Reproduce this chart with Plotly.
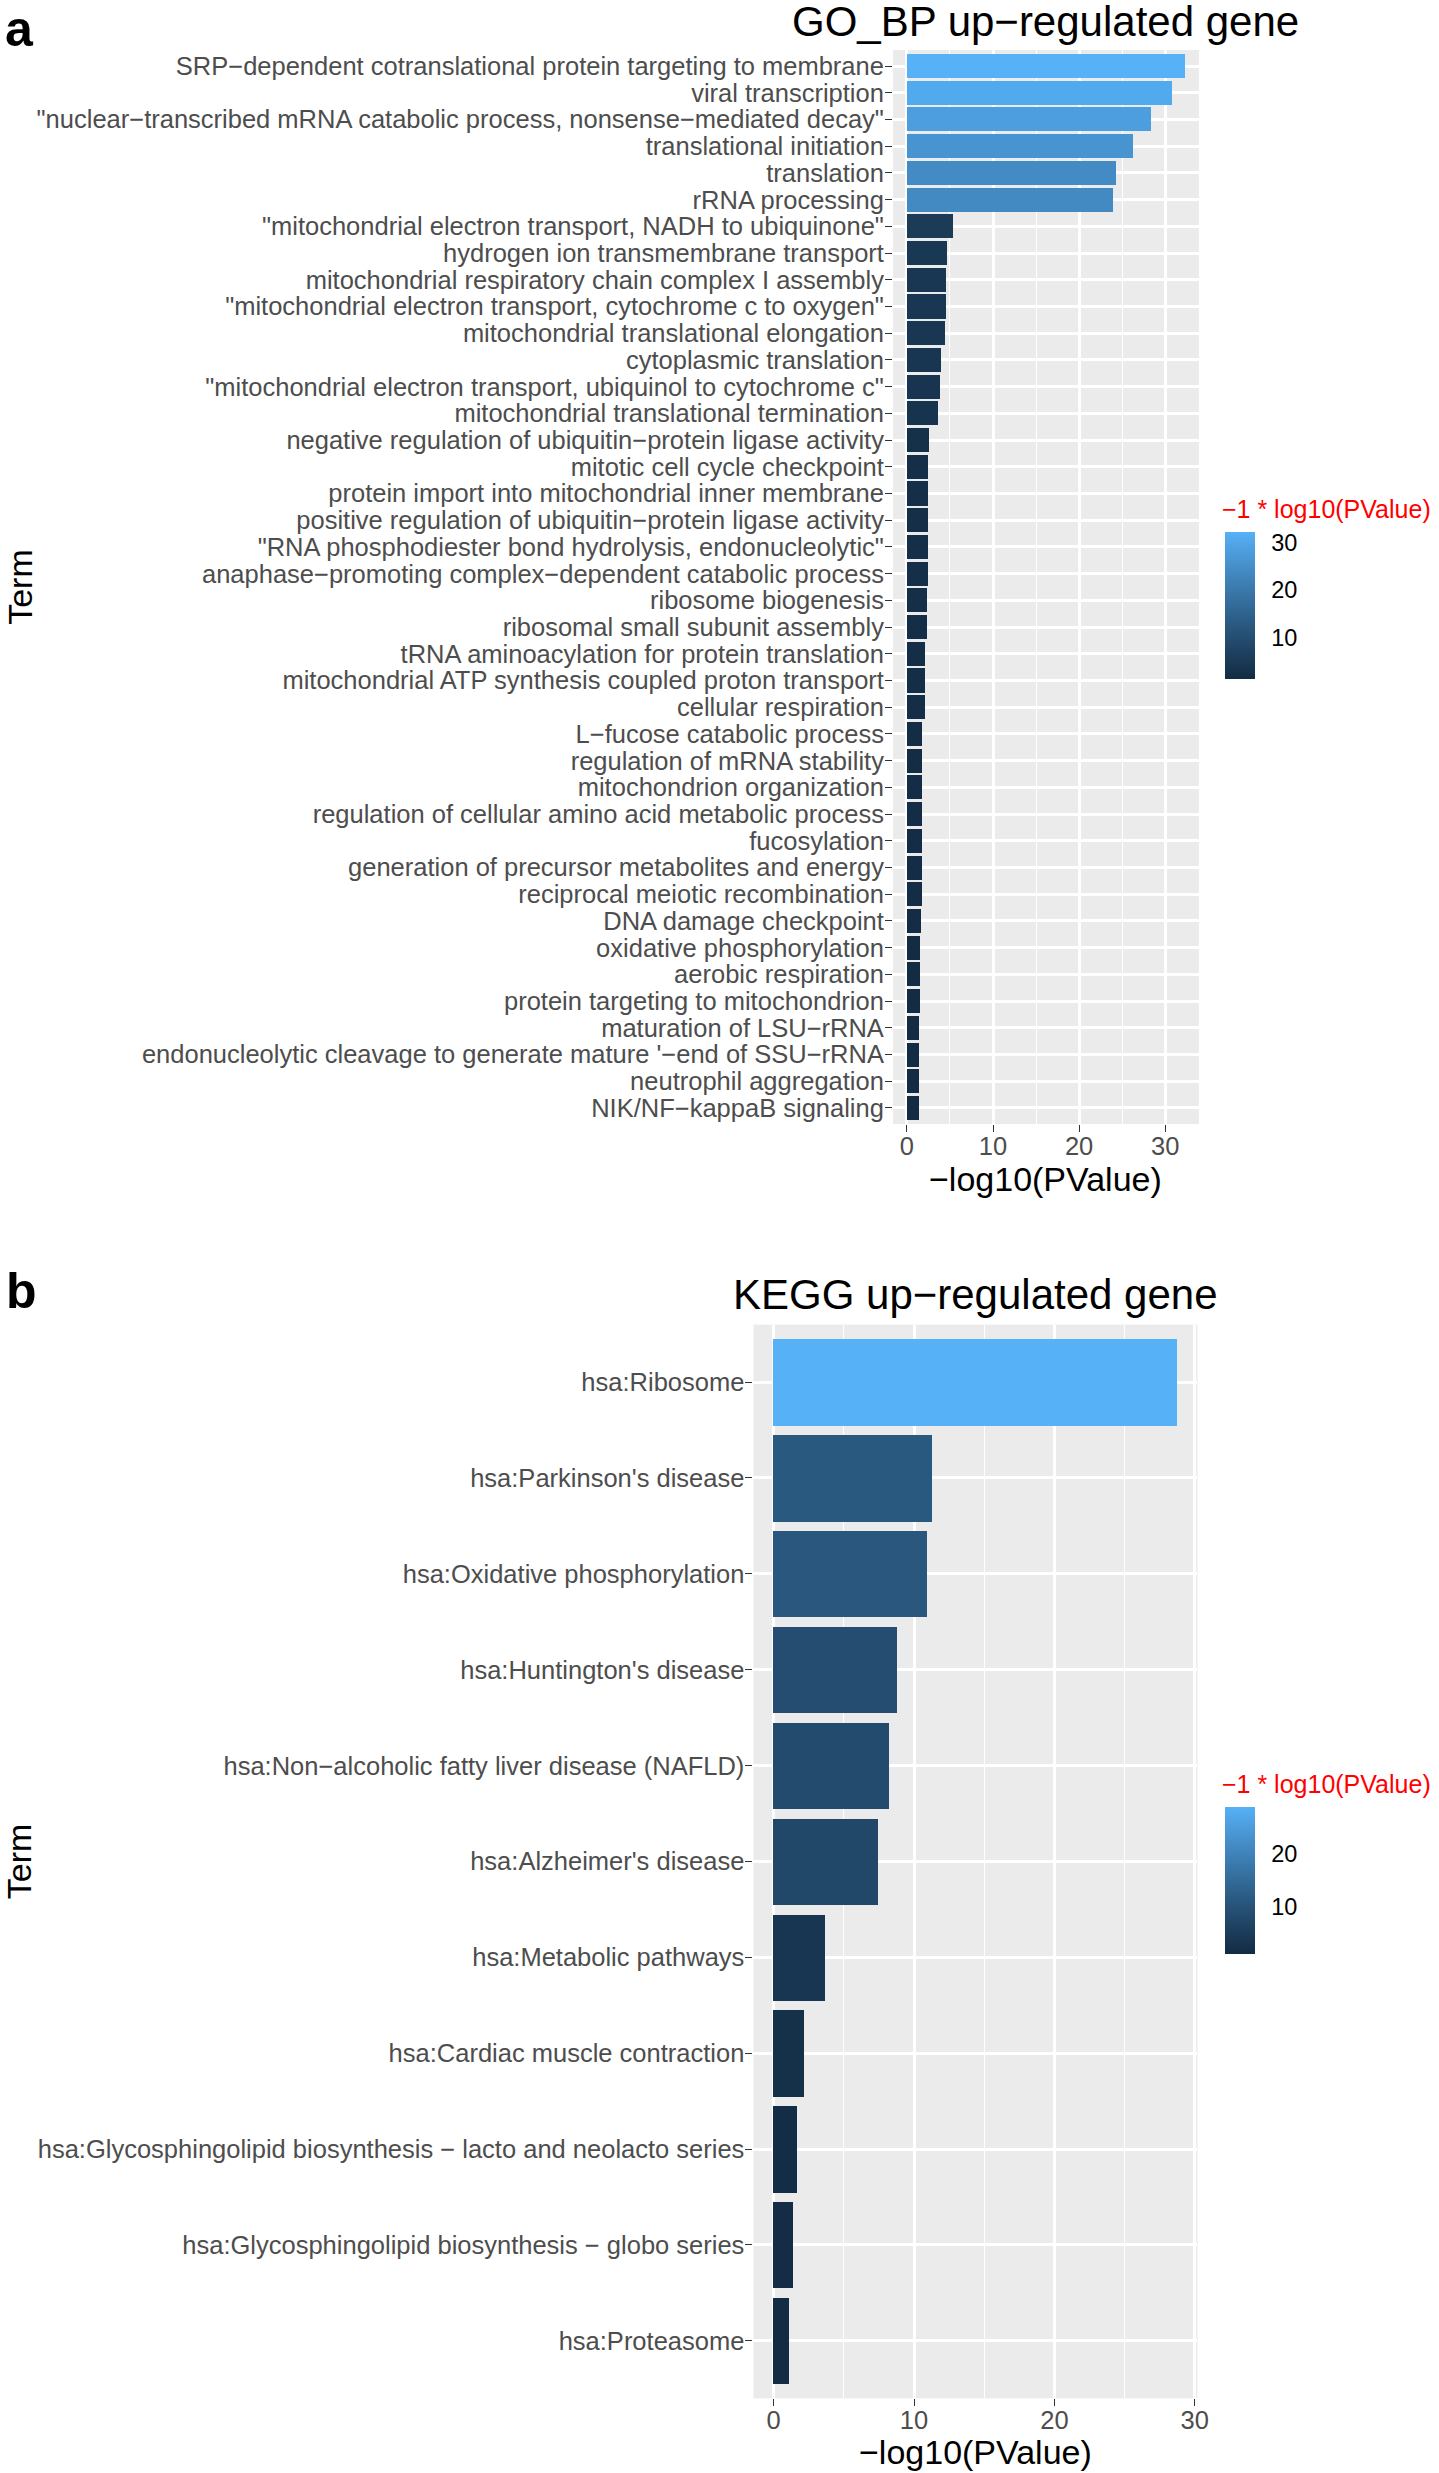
import plotly.graph_objects as go

# ---------------- data ----------------
go_terms = [
    "SRP−dependent cotranslational protein targeting to membrane",
    "viral transcription",
    "\"nuclear−transcribed mRNA catabolic process, nonsense−mediated decay\"",
    "translational initiation",
    "translation",
    "rRNA processing",
    "\"mitochondrial electron transport, NADH to ubiquinone\"",
    "hydrogen ion transmembrane transport",
    "mitochondrial respiratory chain complex I assembly",
    "\"mitochondrial electron transport, cytochrome c to oxygen\"",
    "mitochondrial translational elongation",
    "cytoplasmic translation",
    "\"mitochondrial electron transport, ubiquinol to cytochrome c\"",
    "mitochondrial translational termination",
    "negative regulation of ubiquitin−protein ligase activity",
    "mitotic cell cycle checkpoint",
    "protein import into mitochondrial inner membrane",
    "positive regulation of ubiquitin−protein ligase activity",
    "\"RNA phosphodiester bond hydrolysis, endonucleolytic\"",
    "anaphase−promoting complex−dependent catabolic process",
    "ribosome biogenesis",
    "ribosomal small subunit assembly",
    "tRNA aminoacylation for protein translation",
    "mitochondrial ATP synthesis coupled proton transport",
    "cellular respiration",
    "L−fucose catabolic process",
    "regulation of mRNA stability",
    "mitochondrion organization",
    "regulation of cellular amino acid metabolic process",
    "fucosylation",
    "generation of precursor metabolites and energy",
    "reciprocal meiotic recombination",
    "DNA damage checkpoint",
    "oxidative phosphorylation",
    "aerobic respiration",
    "protein targeting to mitochondrion",
    "maturation of LSU−rRNA",
    "endonucleolytic cleavage to generate mature '−end of SSU−rRNA",
    "neutrophil aggregation",
    "NIK/NF−kappaB signaling",
]
go_values = [32.3, 30.8, 28.4, 26.2, 24.3, 23.9, 5.4, 4.65, 4.55, 4.5,
             4.4, 4.0, 3.8, 3.6, 2.6, 2.5, 2.45, 2.45, 2.4, 2.4,
             2.35, 2.3, 2.15, 2.15, 2.15, 1.8, 1.8, 1.78, 1.77, 1.77,
             1.73, 1.73, 1.69, 1.56, 1.56, 1.56, 1.44, 1.4, 1.4, 1.4]

kegg_terms = [
    "hsa:Ribosome",
    "hsa:Parkinson's disease",
    "hsa:Oxidative phosphorylation",
    "hsa:Huntington's disease",
    "hsa:Non−alcoholic fatty liver disease (NAFLD)",
    "hsa:Alzheimer's disease",
    "hsa:Metabolic pathways",
    "hsa:Cardiac muscle contraction",
    "hsa:Glycosphingolipid biosynthesis − lacto and neolacto series",
    "hsa:Glycosphingolipid biosynthesis − globo series",
    "hsa:Proteasome",
]
kegg_values = [28.75, 11.3, 10.95, 8.82, 8.22, 7.49, 3.66, 2.23, 1.73, 1.43, 1.16]

go_xticks = [0, 10, 20, 30]
kegg_xticks = [0, 10, 20, 30]
go_cbar_ticks = [10, 20, 30]
kegg_cbar_ticks = [10, 20]

# ---------------- style helpers ----------------
W, H = 1439, 2473
FONT = "Liberation Sans, Arial, Helvetica, sans-serif"
DX = 8  # horizontal calibration offset (px)


def px_x(p):
    return (p + DX) / W


def px_y(p):
    return 1 - p / H


def _srgb_to_lab(hexc):
    r, g, b = [int(hexc[i:i + 2], 16) / 255 for i in (1, 3, 5)]
    lin = [c / 12.92 if c <= 0.04045 else ((c + 0.055) / 1.055) ** 2.4 for c in (r, g, b)]
    X = 0.4124 * lin[0] + 0.3576 * lin[1] + 0.1805 * lin[2]
    Y = 0.2126 * lin[0] + 0.7152 * lin[1] + 0.0722 * lin[2]
    Z = 0.0193 * lin[0] + 0.1192 * lin[1] + 0.9505 * lin[2]
    Xn, Yn, Zn = 0.95047, 1.0, 1.08883
    d = 6 / 29

    def f(t):
        return t ** (1 / 3) if t > d ** 3 else t / (3 * d * d) + 4 / 29
    fx, fy, fz = f(X / Xn), f(Y / Yn), f(Z / Zn)
    return (116 * fy - 16, 500 * (fx - fy), 200 * (fy - fz))


def _lab_to_hex(L, a, b):
    Xn, Yn, Zn = 0.95047, 1.0, 1.08883
    d = 6 / 29
    fy = (L + 16) / 116
    fx = fy + a / 500
    fz = fy - b / 200

    def finv(t):
        return t ** 3 if t > d else 3 * d * d * (t - 4 / 29)
    X, Y, Z = Xn * finv(fx), Yn * finv(fy), Zn * finv(fz)
    rl = 3.2406 * X - 1.5372 * Y - 0.4986 * Z
    gl = -0.9689 * X + 1.8758 * Y + 0.0415 * Z
    bl = 0.0557 * X - 0.2040 * Y + 1.0570 * Z
    out = []
    for c in (rl, gl, bl):
        c = 12.92 * c if c <= 0.0031308 else 1.055 * c ** (1 / 2.4) - 0.055
        out.append(max(0, min(255, round(c * 255))))
    return "#%02x%02x%02x" % tuple(out)


def lab_scale(lo, hi, n=16):
    a, b = _srgb_to_lab(lo), _srgb_to_lab(hi)
    res = []
    for i in range(n):
        t = i / (n - 1)
        res.append([t, _lab_to_hex(*[a[k] + (b[k] - a[k]) * t for k in range(3)])])
    return res


CSCALE = lab_scale("#132B43", "#56B1F7")

# panel pixel boxes (left, right, top, bottom)
PA = (892.5, 1201.0, 50.0, 1124.0)
PB = (751.8, 1199.5, 1324.6, 2398.3)


def xrange(vals):
    m = max(vals)
    return [-0.05 * m, 1.05 * m]


fig = go.Figure()
fig.add_trace(go.Bar(
    x=go_values, y=go_terms, orientation="h", width=0.9,
    marker=dict(color=go_values, coloraxis="coloraxis", line=dict(width=0)),
    xaxis="x", yaxis="y", showlegend=False))
fig.add_trace(go.Bar(
    x=kegg_values, y=kegg_terms, orientation="h", width=0.9,
    marker=dict(color=kegg_values, coloraxis="coloraxis2", line=dict(width=0)),
    xaxis="x2", yaxis="y2", showlegend=False))

tickfont = dict(family=FONT, size=25.5, color="#4D4D4D")


def xaxis_cfg(box, vals, ticks, anchor):
    return dict(
        domain=[px_x(box[0]), px_x(box[1])], range=xrange(vals), anchor=anchor,
        tickmode="array", tickvals=ticks, showgrid=True, gridcolor="white", gridwidth=2.6,
        minor=dict(tickmode="array", tickvals=[5, 15, 25], showgrid=True,
                   gridcolor="white", gridwidth=1.3, ticks=""),
        ticks="outside", ticklen=7, tickwidth=1.4, tickcolor="#333333",
        tickfont=tickfont, ticklabelstandoff=-8,
        zeroline=False, showline=False, fixedrange=True)


def yaxis_cfg(box, terms, anchor):
    n = len(terms)
    return dict(
        domain=[px_y(box[3]), px_y(box[2])], anchor=anchor,
        categoryorder="array", categoryarray=terms, range=[n - 1 + 0.6, -0.6],
        tickmode="array", tickvals=terms, ticktext=terms,
        showgrid=True, gridcolor="white", gridwidth=2.6,
        ticks="outside", ticklen=7, tickwidth=1.4, tickcolor="#333333",
        tickfont=tickfont, ticklabelstandoff=-4, zeroline=False, showline=False,
        fixedrange=True)


def cbar(vals, ticks, top_px):
    return dict(
        cmin=min(vals), cmax=max(vals), colorscale=CSCALE,
        colorbar=dict(
            x=px_x(1227.3), xanchor="left", xpad=0,
            y=px_y(top_px), yanchor="top", ypad=0,
            len=146.6, lenmode="pixels", thickness=30, thicknessmode="pixels",
            outlinewidth=0, tickmode="array", tickvals=ticks,
            ticks="outside", ticklen=12, tickwidth=1, tickcolor="rgba(0,0,0,0)",
            tickfont=dict(family=FONT, size=23.5, color="black")))


fig.update_layout(
    width=W, height=H, margin=dict(l=0, r=0, t=0, b=0),
    paper_bgcolor="white", plot_bgcolor="#EBEBEB",
    font=dict(family=FONT),
    bargap=0,
    xaxis=xaxis_cfg(PA, go_values, go_xticks, "y"),
    yaxis=yaxis_cfg(PA, go_terms, "x"),
    xaxis2=xaxis_cfg(PB, kegg_values, kegg_xticks, "y2"),
    yaxis2=yaxis_cfg(PB, kegg_terms, "x2"),
    coloraxis=cbar(go_values, go_cbar_ticks, 531.7),
    coloraxis2=cbar(kegg_values, kegg_cbar_ticks, 1806.7),
)

ann = []


def text(t, x, y, size, color="black", bold=False, xanchor="center", angle=0):
    ann.append(dict(text=("<b>%s</b>" % t) if bold else t, x=px_x(x), y=px_y(y),
                    xref="paper", yref="paper", xanchor=xanchor, yanchor="middle",
                    showarrow=False, textangle=angle,
                    font=dict(family=FONT, size=size, color=color)))


# panel letters
text("a", 12, 29, 50, bold=True)
text("b", 14, 1291, 50, bold=True)
# titles
text("GO_BP up−regulated gene", (PA[0] + PA[1]) / 2, 21, 42)
text("KEGG up−regulated gene", (PB[0] + PB[1]) / 2, 1294, 42)
# axis titles
text("−log10(PValue)", (PA[0] + PA[1]) / 2, 1179, 34)
text("−log10(PValue)", (PB[0] + PB[1]) / 2, 2452, 34)
text("Term", 12, (PA[2] + PA[3]) / 2, 34, angle=-90)
text("Term", 12, (PB[2] + PB[3]) / 2, 34, angle=-90)
# legend titles
text("−1 * log10(PValue)", 1222, 509, 25, color="red", xanchor="left")
text("−1 * log10(PValue)", 1222, 1784, 25, color="red", xanchor="left")

fig.update_layout(annotations=ann)
# remove the browser's default page margin so the figure sits at the page origin
fig.write_html("out.html", config={"displayModeBar": False},
               post_script="document.body.style.margin='0';")
